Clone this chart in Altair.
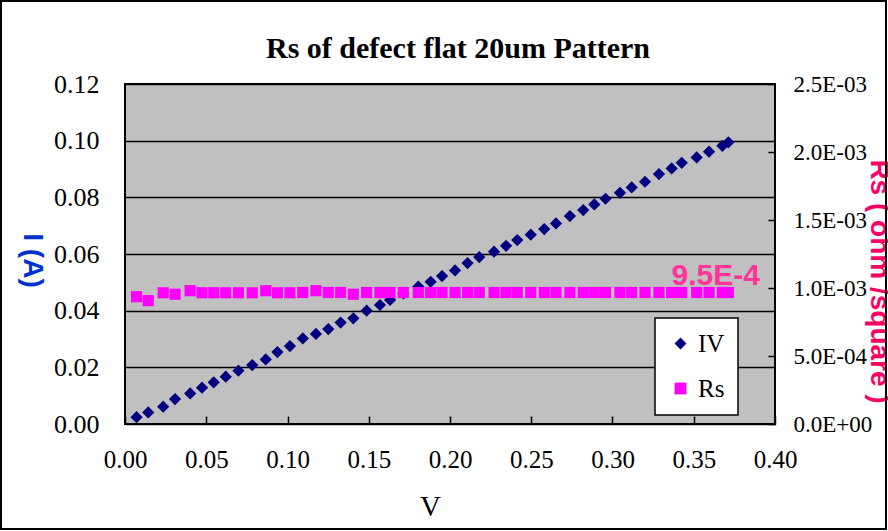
import altair as alt
import pandas as pd

# ---- data ----
V = [0.0071, 0.0143, 0.0235, 0.0308, 0.0401, 0.0474, 0.0546, 0.0620, 0.0698, 0.0783,
     0.0866, 0.0938, 0.1015, 0.1094, 0.1175, 0.1251, 0.1327, 0.1405, 0.1487, 0.1569,
     0.1631, 0.1713, 0.1805, 0.1881, 0.1951, 0.2031, 0.2108, 0.2180, 0.2271, 0.2345,
     0.2414, 0.2497, 0.2580, 0.2652, 0.2738, 0.2820, 0.2888, 0.2957, 0.3046, 0.3118,
     0.3200, 0.3286, 0.3364, 0.3426, 0.3518, 0.3594, 0.3676, 0.3713]
I = [0.0024, 0.0041, 0.0061, 0.0088, 0.0108, 0.0128, 0.0147, 0.0167, 0.0188, 0.0208,
     0.0228, 0.0254, 0.0275, 0.0302, 0.0318, 0.0335, 0.0358, 0.0373, 0.0400, 0.0420,
     0.0438, 0.0461, 0.0485, 0.0502, 0.0522, 0.0542, 0.0568, 0.0589, 0.0608, 0.0629,
     0.0649, 0.0668, 0.0688, 0.0708, 0.0734, 0.0755, 0.0775, 0.0795, 0.0816, 0.0835,
     0.0855, 0.0882, 0.0902, 0.0922, 0.0941, 0.0961, 0.0982, 0.0994]
RS = [9.36e-4, 9.07e-4, 9.65e-4, 9.54e-4, 9.80e-4, 9.65e-4, 9.65e-4, 9.65e-4, 9.65e-4, 9.65e-4,
      9.80e-4, 9.65e-4, 9.65e-4, 9.67e-4, 9.80e-4, 9.67e-4, 9.67e-4, 9.54e-4, 9.67e-4, 9.67e-4,
      9.67e-4, 9.67e-4, 9.67e-4, 9.67e-4, 9.67e-4, 9.67e-4, 9.67e-4, 9.67e-4, 9.67e-4, 9.67e-4,
      9.67e-4, 9.67e-4, 9.67e-4, 9.67e-4, 9.67e-4, 9.67e-4, 9.67e-4, 9.67e-4, 9.67e-4, 9.67e-4,
      9.67e-4, 9.67e-4, 9.67e-4, 9.67e-4, 9.67e-4, 9.67e-4, 9.67e-4, 9.67e-4]
SERIES = ["IV", "Rs"]
X_TICKS = [0.0, 0.05, 0.10, 0.15, 0.20, 0.25, 0.30, 0.35, 0.40]
Y_TICKS = [0.0, 0.02, 0.04, 0.06, 0.08, 0.10, 0.12]
RS_TICKS = [0.0, 0.0005, 0.0010, 0.0015, 0.0020, 0.0025]
ANN_V = [0.3635]
ANN_I = [0.049]
ANN_TEXT = ["9.5E-4"]

df_iv = pd.DataFrame({"V": V, "val": I, "series": "IV"})
df_rs = pd.DataFrame({"V": V, "val": RS, "series": "Rs"})
df_ann = pd.DataFrame({"V": ANN_V, "val": ANN_I, "label": ANN_TEXT})
df_one = pd.DataFrame({"a": [0]})

SERIF = "Liberation Serif"
SANS = "Liberation Sans"

legend = alt.Legend(
    title=None, orient="none", legendX=530, legendY=234,
    fillColor="white", strokeColor="black", padding=13,
    labelFont=SERIF, labelFontSize=25, labelColor="black", labelOffset=5,
    labelExpr="datum.label + '     '",
    rowPadding=19, symbolSize=140, symbolStrokeWidth=0, cornerRadius=0,
)
color = alt.Color("series:N", scale=alt.Scale(domain=SERIES, range=["#000080", "#FF00FF"]), legend=legend)
shape = alt.Shape("series:N", scale=alt.Scale(domain=SERIES, range=["diamond", "square"]), legend=legend)

x_enc = alt.X(
    "V:Q", scale=alt.Scale(domain=[0, 0.4], nice=False),
    axis=alt.Axis(values=X_TICKS, format=".2f", title="V", titleFont=SERIF, titleFontSize=29,
                  titleFontWeight="normal", titleColor="black", titleX=305, titleY=90,
                  titleAlign="center", titleBaseline="middle", titleAngle=0,
                  labelFont=SERIF, labelFontSize=25, labelColor="black", labelPadding=23,
                  labelFlush=False, labelOverlap=False,
                  tickColor="black", tickSize=8, tickWidth=1.5, offset=-8, domain=False, grid=False),
)

y_left = alt.Y(
    "val:Q", scale=alt.Scale(domain=[0, 0.12], nice=False),
    axis=alt.Axis(values=Y_TICKS, format=".2f", title="I (A)", titleFont=SANS, titleFontSize=28,
                  titleFontWeight="bold", titleColor="#0033CC", titleAngle=90, titleX=-94, titleY=176,
                  titleAlign="center", titleBaseline="middle",
                  labelFont=SERIF, labelFontSize=26, labelColor="black", labelPadding=26,
                  labelFlush=False, labelOverlap=False,
                  ticks=False, domain=False, grid=True, gridColor="black", gridWidth=1.3),
)

y_right = alt.Y(
    "val:Q", scale=alt.Scale(domain=[0, 0.0025], nice=False),
    axis=alt.Axis(orient="right", values=RS_TICKS,
                  labelExpr="datum.value == 0 ? '0.0E+00' : format(datum.value / pow(10, floor(log(datum.value)/LN10 + 1e-9)), '.1f') + 'E-0' + (-floor(log(datum.value)/LN10 + 1e-9))",
                  title="Rs ( ohm /square )", titleFont=SANS, titleFontSize=28, titleFontWeight="bold",
                  titleColor="#FF0066", titleAngle=90, titleX=110, titleY=197,
                  titleAlign="center", titleBaseline="middle",
                  labelFont=SERIF, labelFontSize=23, labelColor="black", labelPadding=18,
                  labelFlush=False, labelOverlap=False,
                  tickColor="black", tickSize=7, tickWidth=1.5, offset=-7, domain=False, grid=False),
)

frame = alt.Chart(df_one).mark_rect(fillOpacity=0, stroke="black", strokeWidth=2).encode(
    x=alt.value(-124), x2=alt.value(761), y=alt.value(-83), y2=alt.value(445)
)

iv = alt.Chart(df_iv).mark_point(filled=True, opacity=1, size=150).encode(
    x=x_enc, y=y_left, color=color, shape=shape
)

ann = alt.Chart(df_ann).mark_text(font=SANS, fontWeight="bold", fontSize=30, color="#FF3399",
                                  align="center", baseline="alphabetic").encode(
    x=alt.X("V:Q"), y=alt.Y("val:Q"), text="label:N"
)

left = alt.layer(frame, iv, ann)

rs = alt.Chart(df_rs).mark_point(filled=True, opacity=1, size=125).encode(
    x=alt.X("V:Q"), y=y_right, color=color, shape=shape
)

chart = alt.layer(left, rs).resolve_scale(y="independent").properties(
    width=650, height=340,
    title=alt.TitleParams("Rs of defect flat 20um Pattern", font=SERIF, fontSize=30, fontWeight="bold",
                          color="black", anchor="middle", dx=8, dy=84, offset=20),
    autosize=alt.AutoSizeParams(type="none"),
    padding={"left": 125, "top": 84, "right": 113, "bottom": 107},
    background="white",
).configure_view(fill="#C0C0C0", stroke="black", strokeWidth=2).configure_legend(strokeWidth=1.5)

chart.save("out.html", embed_options={"renderer": "svg", "actions": False})
